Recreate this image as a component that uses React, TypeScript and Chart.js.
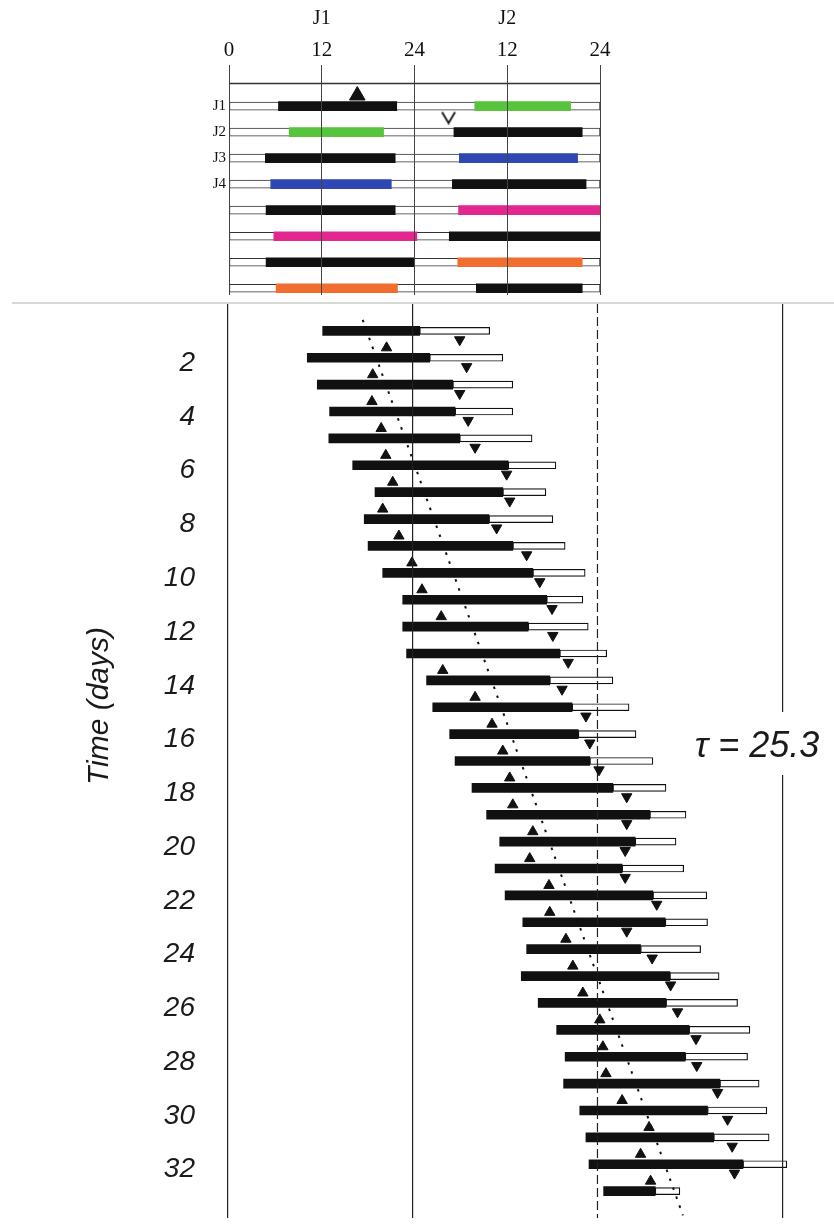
import React, { useEffect, useRef } from 'react';
import { Chart, registerables } from 'chart.js';

Chart.register(...registerables);

// ---------------- Top panel: two-day schedule (J1 | J2) ----------------
const topRows = [1, 2, 3, 4, 5, 6, 7, 8];
const topRowLabels = ['J1', 'J2', 'J3', 'J4', '', '', '', ''];
const topAxisTicks = [0, 12, 24, 36, 48];
const topAxisLabels = ['0', '12', '24', '12', '24'];
const dayHeaderTicks = [12, 36];
const dayHeaderLabels = ['J1', 'J2'];

const topLeftStart = [6.4, 7.8, 4.7, 5.4, 4.8, 5.8, 4.8, 6.1];
const topLeftEnd = [21.7, 20.0, 21.5, 21.0, 21.5, 24.3, 24.0, 21.8];
const topLeftKind = ['dark', 'green', 'dark', 'blue', 'dark', 'magenta', 'dark', 'orange'];
const topRightStart = [31.8, 29.1, 29.8, 28.9, 29.7, 28.5, 29.6, 32.0];
const topRightEnd = [44.2, 45.7, 45.1, 46.2, 48.0, 48.0, 45.7, 45.7];
const topRightKind = ['green', 'dark', 'blue', 'dark', 'magenta', 'dark', 'orange', 'dark'];

const topOnsetHour = 16.6;
const topOnsetRow = 1;
const topOffsetHour = 28.4;
const topOffsetRow = 1;

// ---------------- Bottom panel: actogram (33 days) ----------------
const days = [1, 2, 3, 4, 5, 6, 7, 8, 9, 10, 11, 12, 13, 14, 15, 16, 17, 18, 19, 20, 21, 22, 23, 24, 25, 26, 27, 28, 29, 30, 31, 32, 33];
const dayTicks = [2, 4, 6, 8, 10, 12, 14, 16, 18, 20, 22, 24, 26, 28, 30, 32];
const phaseLineHours = [0, 24, 48, 72];
const dashedHour = 48;

const activeStart = [12.3, 10.3, 11.6, 13.2, 13.1, 16.2, 19.1, 17.7, 18.2, 20.1, 22.7, 22.7, 23.2, 25.8, 26.6, 28.8, 29.5, 31.7, 33.6, 35.3, 34.7, 36.0, 38.3, 38.8, 38.1, 40.3, 42.7, 43.8, 43.6, 45.7, 46.5, 46.9, 48.8];
const activeEnd = [24.9, 26.2, 29.2, 29.5, 30.1, 36.4, 35.7, 33.9, 37.0, 39.6, 41.4, 39.0, 43.1, 41.8, 44.7, 45.5, 47.0, 50.0, 54.8, 52.9, 51.2, 55.2, 56.8, 53.6, 57.4, 56.9, 59.9, 59.4, 63.9, 62.3, 63.1, 66.9, 55.5];
const restEnd = [34.0, 35.7, 37.0, 37.0, 39.5, 42.6, 41.3, 42.2, 43.8, 46.4, 46.1, 46.8, 49.2, 50.0, 52.1, 53.0, 55.2, 56.9, 59.5, 58.2, 59.2, 62.2, 62.3, 61.4, 63.8, 66.2, 67.8, 67.5, 69.0, 70.0, 70.3, 72.6, 58.7];
const onsetMarks = [null, 20.6, 18.8, 18.7, 19.9, 20.5, 21.4, 20.1, 22.2, 23.9, 25.2, 27.7, null, 27.9, 32.1, 34.3, 35.7, 36.6, 37.0, 39.6, 39.2, 41.7, 41.8, 43.9, 44.8, 46.1, 48.3, 48.7, 49.1, 51.2, 54.7, 53.6, 54.9];
const offsetMarks = [30.1, 31.0, 30.1, 31.2, 32.1, 36.2, 36.6, 34.9, 38.8, 40.5, 42.1, 42.2, 44.2, 43.4, 46.5, 47.0, 48.2, 51.8, 51.8, 51.6, 51.6, 55.7, 51.8, 55.1, 57.5, 58.4, 60.8, 60.9, 63.6, 64.9, 65.5, 65.8, null];

const fitLineHours = [17.5, 59.1];
const fitLineDays = [0.59, 33.9];

const tauLabel = 'τ = 25.3';
const yAxisTitle = 'Time (days)';

// ---------------- styles ----------------
const palette: Record<string, string> = {
  dark: '#111111',
  green: '#58c43e',
  blue: '#2f47b2',
  magenta: '#e2278f',
  orange: '#f06f30',
};
const UP_SHIFT = 0.37;
const DOWN_SHIFT = 0.33;
const LABEL_SHIFT = 0.2;
const BOTTOM_TOP = 295;

function makeVMark() {
  const c = document.createElement('canvas');
  c.width = 16;
  c.height = 14;
  const g = c.getContext('2d')!;
  g.strokeStyle = '#111';
  g.lineWidth = 1.8;
  g.beginPath();
  g.moveTo(1.5, 1.5);
  g.lineTo(8, 12.5);
  g.lineTo(14.5, 1.5);
  g.stroke();
  return c;
}

const noPad = (s: any) => {
  s.paddingTop = 0;
  s.paddingBottom = 0;
  s.paddingLeft = 0;
  s.paddingRight = 0;
};

const topFrame = {
  id: 'topFrame',
  afterDraw(chart: any) {
    const { ctx, chartArea } = chart;
    ctx.save();
    ctx.strokeStyle = '#333';
    ctx.lineWidth = 1.5;
    ctx.beginPath();
    ctx.moveTo(chartArea.left, chartArea.top + 0.5);
    ctx.lineTo(chartArea.right, chartArea.top + 0.5);
    ctx.stroke();
    ctx.restore();
  },
};

function topConfig(): any {
  return {
    type: 'bar',
    data: {
      datasets: [
        {
          type: 'bar',
          label: 'track',
          indexAxis: 'y',
          xAxisID: 'x',
          data: topRows.map((r) => ({ x: [0, 48], y: r })),
          backgroundColor: '#ffffff',
          borderColor: '#333333',
          borderWidth: 1,
          borderSkipped: false,
          barThickness: 8,
          grouped: false,
          order: 4,
        },
        {
          type: 'bar',
          label: 'J1 half',
          indexAxis: 'y',
          xAxisID: 'x',
          data: topRows.map((r, i) => ({ x: [topLeftStart[i], topLeftEnd[i]], y: r })),
          backgroundColor: topLeftKind.map((k) => palette[k]),
          borderWidth: 0,
          barThickness: 9,
          grouped: false,
          order: 3,
        },
        {
          type: 'bar',
          label: 'J2 half',
          indexAxis: 'y',
          xAxisID: 'x',
          data: topRows.map((r, i) => ({ x: [topRightStart[i], topRightEnd[i]], y: r })),
          backgroundColor: topRightKind.map((k) => palette[k]),
          borderWidth: 0,
          barThickness: 9,
          grouped: false,
          order: 3,
        },
        {
          type: 'scatter',
          label: 'onset',
          xAxisID: 'x',
          data: [{ x: topOnsetHour, y: topOnsetRow - 0.41 }],
          pointStyle: 'triangle',
          pointRadius: 9,
          backgroundColor: '#111',
          borderColor: '#111',
          borderWidth: 1,
          order: 1,
        },
        {
          type: 'scatter',
          label: 'offset',
          xAxisID: 'x',
          data: [{ x: topOffsetHour, y: topOffsetRow + 0.44 }],
          pointStyle: makeVMark(),
          pointRadius: 7,
          order: 1,
        },
      ],
    },
    options: {
      responsive: false,
      animation: false,
      indexAxis: 'y',
      layout: { padding: { left: 0, right: 234, top: 0, bottom: 2 } },
      plugins: { legend: { display: false }, tooltip: { enabled: false } },
      scales: {
        x: {
          type: 'linear',
          position: 'top',
          min: 0,
          max: 48,
          offset: false,
          afterBuildTicks: (s: any) => {
            s.ticks = topAxisTicks.map((v) => ({ value: v }));
          },
          ticks: {
            callback: (_v: any, i: number) => topAxisLabels[i],
            font: { family: '"Liberation Serif", serif', size: 21 },
            color: '#111',
            padding: 2,
            maxRotation: 0,
            autoSkip: false,
          },
          grid: { color: '#444', lineWidth: 1, drawTicks: true, tickLength: 18, tickColor: '#444', offset: false, z: 1 },
          border: { display: false },
          afterFit: (s: any) => {
            s.height = 48;
            noPad(s);
          },
        },
        x2: {
          type: 'linear',
          position: 'top',
          weight: 1,
          min: 0,
          max: 48,
          offset: false,
          afterBuildTicks: (s: any) => {
            s.ticks = dayHeaderTicks.map((v) => ({ value: v }));
          },
          ticks: {
            callback: (_v: any, i: number) => dayHeaderLabels[i],
            font: { family: '"Liberation Serif", serif', size: 20 },
            color: '#111',
            padding: 4,
            maxRotation: 0,
            autoSkip: false,
          },
          grid: { display: false, drawTicks: false },
          border: { display: false },
          afterFit: (s: any) => {
            s.height = 35;
            noPad(s);
          },
        },
        y: {
          type: 'linear',
          min: 0.11,
          max: 8.26,
          reverse: true,
          offset: false,
          afterBuildTicks: (s: any) => {
            s.ticks = topRows.map((v) => ({ value: v }));
          },
          ticks: {
            callback: (_v: any, i: number) => topRowLabels[i],
            font: { family: '"Liberation Serif", serif', size: 15 },
            color: '#111',
            padding: 3,
            autoSkip: false,
          },
          grid: { display: false, drawTicks: false, offset: false },
          border: { display: false },
          afterFit: (s: any) => {
            s.width = 229;
            noPad(s);
          },
        },
      },
    },
    plugins: [topFrame],
  };
}

const bottomText = {
  id: 'bottomText',
  afterDraw(chart: any) {
    const { ctx, scales } = chart;
    const x72 = scales.x.getPixelForValue(72);
    ctx.save();
    ctx.fillStyle = '#ffffff';
    ctx.fillRect(x72 - 4, 712 - BOTTOM_TOP, 8, 63);
    ctx.fillStyle = '#1a1a1a';
    ctx.font = 'italic 36px "Liberation Sans", sans-serif';
    ctx.textAlign = 'center';
    ctx.textBaseline = 'middle';
    ctx.fillText(tauLabel, 757, 747 - BOTTOM_TOP);
    ctx.translate(100, 706 - BOTTOM_TOP);
    ctx.rotate(-Math.PI / 2);
    ctx.font = 'italic 30px "Liberation Sans", sans-serif';
    ctx.fillText(yAxisTitle, 0, 0);
    ctx.restore();
  },
};

function bottomConfig(): any {
  const upPts: any[] = [];
  const downPts: any[] = [];
  days.forEach((d, i) => {
    if (onsetMarks[i] != null) upPts.push({ x: onsetMarks[i], y: d - UP_SHIFT });
    if (offsetMarks[i] != null) downPts.push({ x: offsetMarks[i], y: d + DOWN_SHIFT });
  });
  return {
    type: 'bar',
    data: {
      datasets: [
        {
          type: 'bar',
          label: 'rest',
          indexAxis: 'y',
          data: days.map((d, i) => ({ x: [activeEnd[i], restEnd[i]], y: d })),
          backgroundColor: '#ffffff',
          borderColor: '#111111',
          borderWidth: 1.2,
          borderSkipped: false,
          barThickness: 7,
          grouped: false,
          order: 6,
        },
        {
          type: 'bar',
          label: 'activity',
          indexAxis: 'y',
          data: days.map((d, i) => ({ x: [activeStart[i], activeEnd[i]], y: d })),
          backgroundColor: '#111111',
          borderWidth: 0,
          barThickness: 9,
          grouped: false,
          order: 5,
        },
        {
          type: 'line',
          label: '48h',
          indexAxis: 'x',
          data: [
            { x: dashedHour, y: 0 },
            { x: dashedHour, y: 34 },
          ],
          borderColor: '#222',
          borderWidth: 1.2,
          borderDash: [9, 4],
          pointRadius: 0,
          fill: false,
          order: 4,
        },
        {
          type: 'scatter',
          label: 'onset',
          data: upPts,
          pointStyle: 'triangle',
          pointRadius: 6,
          backgroundColor: '#111',
          borderColor: '#111',
          borderWidth: 1,
          order: 2,
        },
        {
          type: 'scatter',
          label: 'offset',
          data: downPts,
          pointStyle: 'triangle',
          rotation: 180,
          pointRadius: 6,
          backgroundColor: '#111',
          borderColor: '#111',
          borderWidth: 1,
          order: 2,
        },
        {
          type: 'line',
          label: 'fit',
          indexAxis: 'x',
          data: [
            { x: fitLineHours[0], y: fitLineDays[0] },
            { x: fitLineHours[1], y: fitLineDays[1] },
          ],
          borderColor: '#111',
          borderWidth: 2,
          borderDash: [2.5, 7],
          pointRadius: 0,
          fill: false,
          order: 1,
        },
      ],
    },
    options: {
      responsive: false,
      animation: false,
      indexAxis: 'y',
      layout: { padding: { left: 0, right: 21, top: 9, bottom: 0 } },
      plugins: { legend: { display: false }, tooltip: { enabled: false } },
      scales: {
        x: {
          type: 'linear',
          position: 'bottom',
          min: 0,
          max: 76,
          offset: false,
          afterBuildTicks: (s: any) => {
            s.ticks = phaseLineHours.map((v) => ({ value: v }));
          },
          ticks: { display: false },
          grid: {
            color: (c: any) => (c.tick && c.tick.value === dashedHour ? 'rgba(0,0,0,0)' : '#222'),
            lineWidth: 1.2,
            drawTicks: false,
            offset: false,
            z: 1,
          },
          border: { display: false },
          afterFit: (s: any) => {
            s.height = 0;
            noPad(s);
          },
        },
        y: {
          type: 'linear',
          min: 0,
          max: 34,
          reverse: true,
          offset: false,
          afterBuildTicks: (s: any) => {
            s.ticks = dayTicks.map((v) => ({ value: v + LABEL_SHIFT }));
          },
          ticks: {
            callback: (_v: any, i: number) => String(dayTicks[i]),
            font: { family: '"Liberation Sans", sans-serif', size: 28, style: 'italic' },
            color: '#1a1a1a',
            padding: 33,
            autoSkip: false,
          },
          grid: { display: false, drawTicks: false, offset: false },
          border: { display: false },
          afterFit: (s: any) => {
            s.width = 228;
            noPad(s);
          },
        },
      },
    },
    plugins: [bottomText],
  };
}

export default function App() {
  const topRef = useRef<HTMLCanvasElement>(null);
  const botRef = useRef<HTMLCanvasElement>(null);

  useEffect(() => {
    const top = new Chart(topRef.current as HTMLCanvasElement, topConfig());
    const bot = new Chart(botRef.current as HTMLCanvasElement, bottomConfig());
    return () => {
      top.destroy();
      bot.destroy();
    };
  }, []);

  return (
    <div style={{ position: 'absolute', left: 0, top: 0, width: 834, height: 1225, background: '#ffffff', overflow: 'hidden' }}>
      <canvas ref={topRef} width={834} height={305} style={{ position: 'absolute', left: 0, top: 0 }} />
      <div style={{ position: 'absolute', left: 12, top: 302, width: 822, height: 2, background: '#d8d8d8' }} />
      <canvas ref={botRef} width={834} height={930} style={{ position: 'absolute', left: 0, top: BOTTOM_TOP }} />
    </div>
  );
}
